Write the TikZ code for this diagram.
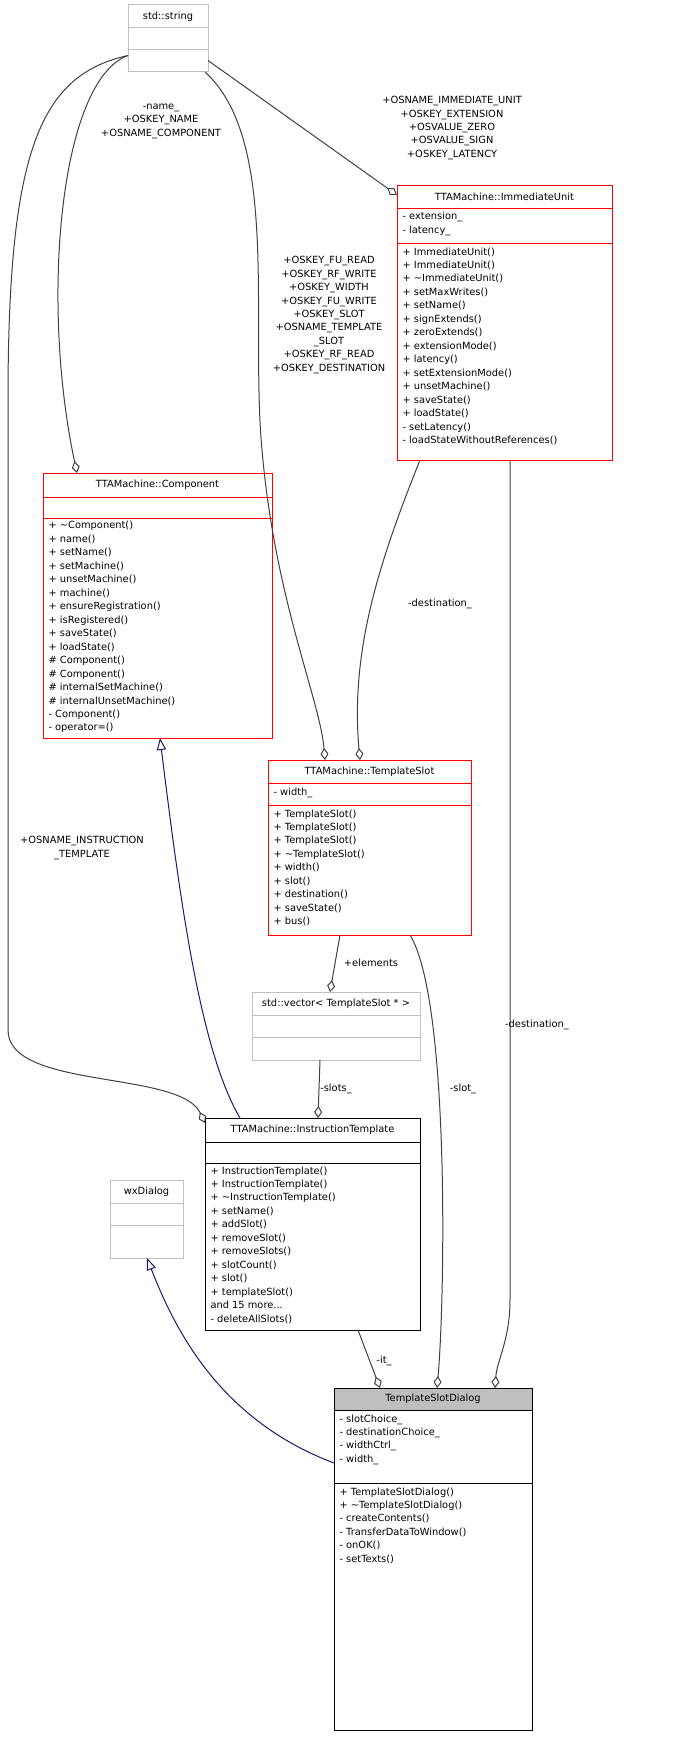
\documentclass[tikz,border=0pt]{standalone}
\usepackage{fontspec}
\setmainfont{DejaVu Sans}
\usetikzlibrary{arrows.meta,calc}
\definecolor{edgegrey}{RGB}{64,64,64}
\definecolor{navyline}{RGB}{25,25,112}
\definecolor{boxgrey}{RGB}{191,191,191}
\definecolor{fillgrey}{RGB}{191,191,191}
\tikzset{every picture/.style={line width=0.75pt}}
\tikzset{
  box/.style={draw, rectangle, inner sep=0pt, outer sep=0pt, line width=0.75pt},
  txt/.style={font=\fontsize{7.4}{10.1}\selectfont, inner sep=0pt, align=left, anchor=north west},
  ttl/.style={font=\fontsize{7.4}{10.1}\selectfont, inner sep=0pt},
  elbl/.style={font=\fontsize{7.4}{10.1}\selectfont, inner sep=0pt, align=center},
  agg/.style={edgegrey, -{Diamond[open,length=9pt,width=6pt]}},
  inh/.style={navyline, -{Triangle[open,length=9pt,width=7pt]}},
}
\begin{document}
\begin{tikzpicture}[x=0.75pt,y=0.75pt,yscale=-1,xscale=1]
\useasboundingbox (0,0) rectangle (686,1745);

% std::string
\node[box, boxgrey, minimum width=60pt, minimum height=50.25pt] (str) at (168,38.5) {};
\draw[boxgrey] (128,28) -- (208,28) (128,50) -- (208,50);
\node[ttl] (strt) at (168,16.5) {std::string};

% ImmediateUnit
\node[box, red, minimum width=161.25pt, minimum height=206.25pt] (iu) at (504.5,322.5) {};
\draw[red] (397,208) -- (612,208) (397,243) -- (612,243);
\node[ttl] (iut) at (504.5,196.5) {TTAMachine::ImmediateUnit};
\node[txt] (iua) at (402,212) {- extension\_\\- latency\_};
\node[txt] (ium) at (402,247) {+ ImmediateUnit()\\+ ImmediateUnit()\\+ \textasciitilde ImmediateUnit()\\+ setMaxWrites()\\+ setName()\\+ signExtends()\\+ zeroExtends()\\+ extensionMode()\\+ latency()\\+ setExtensionMode()\\+ unsetMachine()\\+ saveState()\\+ loadState()\\- setLatency()\\- loadStateWithoutReferences()};

% Component
\node[box, red, minimum width=171.75pt, minimum height=198.75pt] (comp) at (157.5,605.5) {};
\draw[red] (43,497) -- (272,497) (43,518) -- (272,518);
\node[ttl] (compt) at (157.5,485) {TTAMachine::Component};
\node[txt] (compm) at (48,521) {+ \textasciitilde Component()\\+ name()\\+ setName()\\+ setMachine()\\+ unsetMachine()\\+ machine()\\+ ensureRegistration()\\+ isRegistered()\\+ saveState()\\+ loadState()\\\# Component()\\\# Component()\\\# internalSetMachine()\\\# internalUnsetMachine()\\- Component()\\- operator=()};

% TemplateSlot
\node[box, red, minimum width=152.25pt, minimum height=131.25pt] (ts) at (369.5,847.5) {};
\draw[red] (268,783) -- (471,783) (268,805) -- (471,805);
\node[ttl] (tst) at (369.5,771.5) {TTAMachine::TemplateSlot};
\node[txt] (tsa) at (273,787) {- width\_};
\node[txt] (tsm) at (273,809) {+ TemplateSlot()\\+ TemplateSlot()\\+ TemplateSlot()\\+ \textasciitilde TemplateSlot()\\+ width()\\+ slot()\\+ destination()\\+ saveState()\\+ bus()};

% std::vector
\node[box, boxgrey, minimum width=126pt, minimum height=51pt] (vec) at (336,1026) {};
\draw[boxgrey] (252,1015) -- (420,1015) (252,1037) -- (420,1037);
\node[ttl] (vect) at (336,1003.5) {std::vector< TemplateSlot * >};

% InstructionTemplate
\node[box, minimum width=161.25pt, minimum height=159pt] (it) at (312.5,1224) {};
\draw (205,1142) -- (420,1142) (205,1163) -- (420,1163);
\node[ttl] (itt) at (312.5,1130) {TTAMachine::InstructionTemplate};
\node[txt] (itm) at (210,1166) {+ InstructionTemplate()\\+ InstructionTemplate()\\+ \textasciitilde InstructionTemplate()\\+ setName()\\+ addSlot()\\+ removeSlot()\\+ removeSlots()\\+ slotCount()\\+ slot()\\+ templateSlot()\\and 15 more...\\- deleteAllSlots()};

% wxDialog
\node[box, boxgrey, minimum width=54.75pt, minimum height=58.5pt] (wx) at (146.5,1219) {};
\draw[boxgrey] (110,1203) -- (183,1203) (110,1225) -- (183,1225);
\node[ttl] (wxt) at (146.5,1191.5) {wxDialog};

% TemplateSlotDialog
\fill[fillgrey] (334,1388) rectangle (532,1410);
\draw (334,1388) rectangle (532,1730);
\coordinate (tsdnw) at (334,1388);
\coordinate (tsdw) at (334,1463);
\draw (334,1410) -- (532,1410) (334,1483) -- (532,1483);
\node[ttl] (tsdt) at (433,1399) {TemplateSlotDialog};
\node[txt] (tsda) at (339,1414) {- slotChoice\_\\- destinationChoice\_\\- widthCtrl\_\\- width\_};
\node[txt] (tsdm) at (339,1487) {+ TemplateSlotDialog()\\+ \textasciitilde TemplateSlotDialog()\\- createContents()\\- TransferDataToWindow()\\- onOK()\\- setTexts()};

% connectors
\draw[agg] ($(str.east)+(0,22)$) -- ($(iu.north west)+(0,10)$);
\draw[agg] ($(str.west)+(0,17)$) .. controls (60,80) and (40,300) .. ($(comp.north west)+(34,0)$);
\draw[agg] ($(str.south east)+(-3,0)$) .. controls (280,140) and (250,320) .. (262,450)
  .. controls (275,600) and (320,700) .. ($(ts.north west)+(57,0)$);
\draw[agg] ($(str.west)+(0,17)$) .. controls (40,75) and (8,150) .. (8,400)
  -- (8,1030) .. controls (8,1090) and (180,1070) .. ($(it.north west)+(0,5)$);
\draw[agg] ($(iu.south west)+(23,0)$) .. controls (380,560) and (350,650) .. ($(ts.north west)+(92,0)$);
\draw[agg] ($(iu.south west)+(113,0)$) -- (510,1300) .. controls (510,1340) and (497,1360) .. ($(tsdnw)+(161,0)$);
\draw[agg] ($(ts.south west)+(72,0)$) -- ($(vec.north west)+(78,0)$);
\draw[agg] ($(vec.south west)+(68,0)$) -- ($(it.north west)+(113,0)$);
\draw[agg] ($(ts.south west)+(142,0)$) .. controls (450,1000) and (445,1300) .. ($(tsdnw)+(103,0)$);
\draw[agg] ($(it.south west)+(153,0)$) -- ($(tsdnw)+(46,0)$);
\draw[inh] ($(it.north west)+(35,0)$) .. controls (200,1050) and (180,900) .. ($(comp.south west)+(117,0)$);
\draw[inh] (tsdw) .. controls (220,1420) and (175,1330) .. ($(wx.south west)+(37,0)$);

% labels
\node[elbl] (l1) at (452,128) {+OSNAME\_IMMEDIATE\_UNIT\\+OSKEY\_EXTENSION\\+OSVALUE\_ZERO\\+OSVALUE\_SIGN\\+OSKEY\_LATENCY};
\node[elbl] (l2) at (161,121) {-name\_\\+OSKEY\_NAME\\+OSNAME\_COMPONENT};
\node[elbl] (l3) at (329,315) {+OSKEY\_FU\_READ\\+OSKEY\_RF\_WRITE\\+OSKEY\_WIDTH\\+OSKEY\_FU\_WRITE\\+OSKEY\_SLOT\\+OSNAME\_TEMPLATE\\\_SLOT\\+OSKEY\_RF\_READ\\+OSKEY\_DESTINATION};
\node[elbl] (l4) at (82,848) {+OSNAME\_INSTRUCTION\\\_TEMPLATE};
\node[elbl] (l5) at (440,604) {-destination\_};
\node[elbl] (l6) at (537,1025) {-destination\_};
\node[elbl] (l7) at (371,963) {+elements};
\node[elbl] (l8) at (336,1089) {-slots\_};
\node[elbl] (l9) at (463,1089) {-slot\_};
\node[elbl] (l10) at (384,1361) {-it\_};
\end{tikzpicture}
\end{document}
